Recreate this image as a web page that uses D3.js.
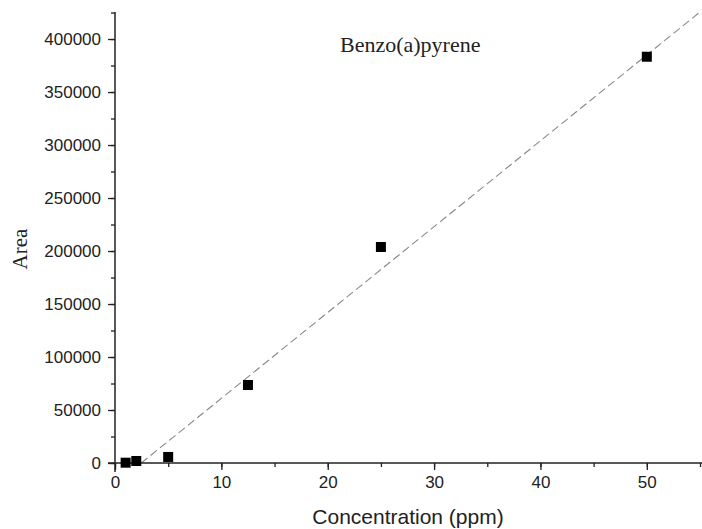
<!DOCTYPE html>
<html><head><meta charset="utf-8">
<script src="https://cdn.jsdelivr.net/npm/d3@7"></script>
<style>body{margin:0;background:#fff}svg{display:block}</style>
</head><body>
<svg id="c" width="702" height="529"></svg>
<script>
const concentration = [1, 2, 5, 12.5, 25, 50];
const area = [300, 1900, 5700, 73600, 203800, 383300];
const xTicks = [0, 10, 20, 30, 40, 50];
const yTicks = [0, 50000, 100000, 150000, 200000, 250000, 300000, 350000, 400000];
const fitSlope = 8100;
const fitIntercept = -20000;

const svg = d3.select("#c");
const m = {l:115, t:12, r:702, b:463};
const x = d3.scaleLinear().domain([0, 55]).range([m.l, 700]);
const y = d3.scaleLinear().domain([0, 425500]).range([m.b, m.t]);

svg.append("defs").append("clipPath").attr("id","clip")
  .append("rect").attr("x", m.l).attr("y", m.t).attr("width", 702-m.l).attr("height", m.b-m.t);

// fit line
const x0 = -fitIntercept / fitSlope;
svg.append("line").attr("clip-path","url(#clip)")
  .attr("x1", x(x0)).attr("y1", y(0))
  .attr("x2", x(60)).attr("y2", y(fitSlope*60+fitIntercept))
  .attr("stroke","#888").attr("stroke-width",1.1).attr("stroke-dasharray","8,4");

const font = "'Liberation Sans', Arial, sans-serif";
const serif = "'Liberation Serif', 'Times New Roman', serif";
// x axis
const xAxis = svg.append("g").attr("transform",`translate(0,${m.b})`)
  .call(d3.axisBottom(x).tickValues(d3.range(0,56,5)).tickSize(4).tickFormat(""));
xAxis.select(".domain").attr("stroke","#222").attr("stroke-width",1.5).attr("d",`M${m.l-7},0H702`);
const xMaj = svg.append("g").attr("transform",`translate(0,${m.b})`)
  .call(d3.axisBottom(x).tickValues(xTicks).tickSize(7).tickPadding(6).tickFormat(d3.format("d")));
xMaj.select(".domain").remove();
xMaj.selectAll("text").attr("font-family",font).attr("font-size",17).attr("fill","#222");

// y axis
const yAxis = svg.append("g").attr("transform",`translate(${m.l},0)`)
  .call(d3.axisLeft(y).tickValues(d3.range(0,425001,25000)).tickSize(4).tickFormat(""));
yAxis.select(".domain").attr("stroke","#222").attr("stroke-width",1.5).attr("d",`M0,${m.t}V${m.b+9}`);
const yMaj = svg.append("g").attr("transform",`translate(${m.l},0)`)
  .call(d3.axisLeft(y).tickValues(yTicks).tickSize(7).tickPadding(7).tickFormat(d3.format("d")));
yMaj.select(".domain").remove();
yMaj.selectAll("text").attr("font-family",font).attr("font-size",17).attr("fill","#222");
svg.selectAll(".tick line").attr("stroke","#222").attr("stroke-width",1.3);

// points
svg.append("g").selectAll("rect").data(concentration).join("rect")
  .attr("x",(d)=>x(d)-5).attr("y",(d,i)=>y(area[i])-5)
  .attr("width",10).attr("height",10).attr("fill","#000");

// labels
svg.append("text").attr("x",408).attr("y",524).attr("text-anchor","middle")
  .attr("font-family",font).attr("font-size",21).attr("fill","#222").text("Concentration (ppm)");
svg.append("text").attr("transform","translate(27,249) rotate(-90)").attr("text-anchor","middle")
  .attr("font-family",serif).attr("font-size",21).attr("fill","#222").text("Area");
svg.append("text").attr("x",340).attr("y",52)
  .attr("font-family",serif).attr("font-size",22).attr("fill","#222").text("Benzo(a)pyrene");
</script>
</body></html>
